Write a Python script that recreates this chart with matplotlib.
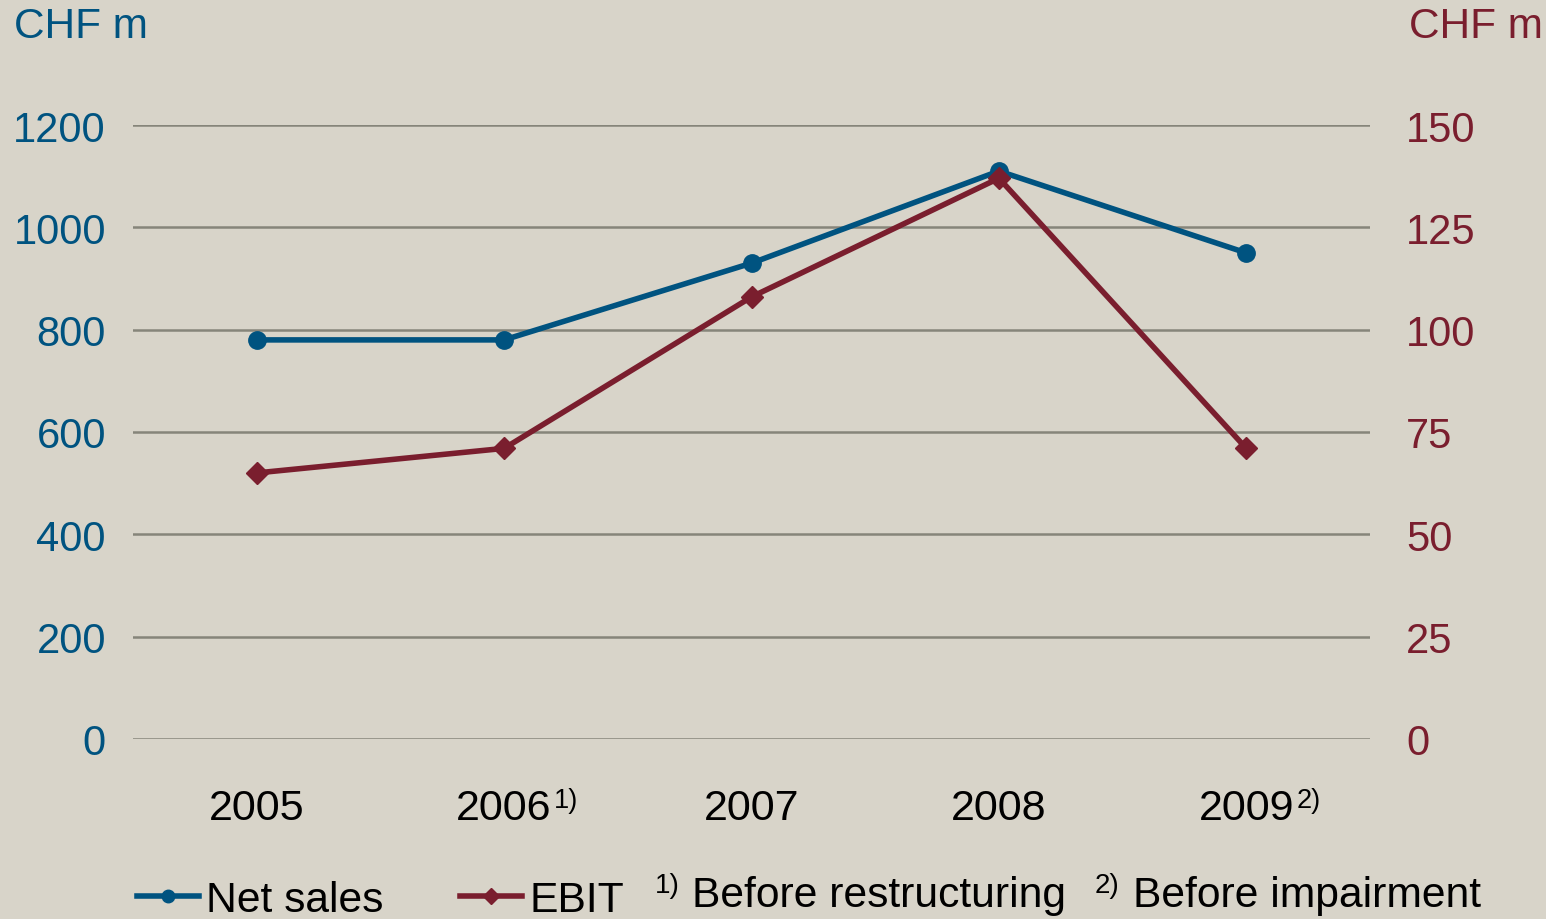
import matplotlib
matplotlib.use("Agg")
import matplotlib.pyplot as plt
from matplotlib.lines import Line2D
from matplotlib.transforms import blended_transform_factory

# Data (CHF m)
years = ["2005", "2006", "2007", "2008", "2009"]
year_notes = ["", "1)", "", "", "2)"]
net_sales = [780, 780, 930, 1110, 950]
ebit = [65, 71, 108, 137, 71]
left_ticks = [0, 200, 400, 600, 800, 1000, 1200]
right_ticks = [0, 25, 50, 75, 100, 125, 150]
footnotes = ["Before restructuring", "Before impairment"]

BG = "#d8d4c9"
BLUE = "#005380"
RED = "#7a1e2e"
GRID = "#86857a"
FONT = "Liberation Sans"

plt.rcParams["font.family"] = [FONT, "DejaVu Sans"]

fig = plt.figure(figsize=(15.46, 9.2), dpi=100, facecolor=BG)
W, H = 1546, 920
ax = fig.add_axes([133 / W, 1 - 740 / H, (1370 - 133) / W, (740 - 126) / H])
ax.set_facecolor("none")
ax2 = ax.twinx()

x = list(range(len(years)))
ax.plot(x, net_sales, color=BLUE, lw=4, marker="o", ms=12.5, zorder=3,
        clip_on=False)
ax2.plot(x, ebit, color=RED, lw=4, marker="D", ms=11.5, zorder=3,
         clip_on=False)

ax.set_xlim(-0.5, len(years) - 0.5)
ax.set_ylim(0, 1200)
ax2.set_ylim(0, 150)
ax.set_yticks(left_ticks)
ax2.set_yticks(right_ticks)
ax.set_xticks(x)
ax.set_xticklabels(years)

for a in (ax, ax2):
    for s in a.spines.values():
        s.set_visible(False)
    a.tick_params(length=0)

ax.yaxis.grid(True, color=GRID, lw=1.8)
ax.set_axisbelow(True)
ax.tick_params(axis="y", labelsize=30, labelcolor=BLUE, pad=19.5)
ax.tick_params(axis="x", labelsize=31, labelcolor="black", pad=35)
ax2.tick_params(axis="y", labelsize=30, labelcolor=RED, pad=26)

# Footnote markers after the year labels
trans = blended_transform_factory(ax.transData, ax.transAxes)
for i, note in enumerate(year_notes):
    if note:
        ax.annotate(note, xy=(i, 0), xycoords=trans, xytext=(36, -44),
                    textcoords="offset points", fontsize=19.5, color="black",
                    ha="left", va="center")

# Unit labels
fig.text(14 / W, 1 - 27 / H, "CHF m", fontsize=30.5, color=BLUE,
         ha="left", va="center")
fig.text(1543 / W, 1 - 27 / H, "CHF m", fontsize=30.5, color=RED,
         ha="right", va="center")

# Legend
handles = [
    Line2D([], [], color=BLUE, lw=4, marker="o", ms=9),
    Line2D([], [], color=RED, lw=4, marker="D", ms=8.5),
]
fig.legend(handles, ["Net sales", "EBIT"], loc="center left",
           bbox_to_anchor=(137 / W, 1 - 901 / H), ncol=2, frameon=False,
           fontsize=30.7, handlelength=1.45, handletextpad=0.17,
           columnspacing=1.8, borderpad=0, borderaxespad=0)

# Footnotes
fig.text(655 / W, 1 - 886 / H, "1)", fontsize=20, ha="left", va="center")
fig.text(692 / W, 1 - 896 / H, footnotes[0], fontsize=30.7, ha="left",
         va="center")
fig.text(1095 / W, 1 - 886 / H, "2)", fontsize=20, ha="left", va="center")
fig.text(1133 / W, 1 - 896 / H, footnotes[1], fontsize=30.7, ha="left",
         va="center")

fig.savefig("out.png", dpi=100, facecolor=BG)
